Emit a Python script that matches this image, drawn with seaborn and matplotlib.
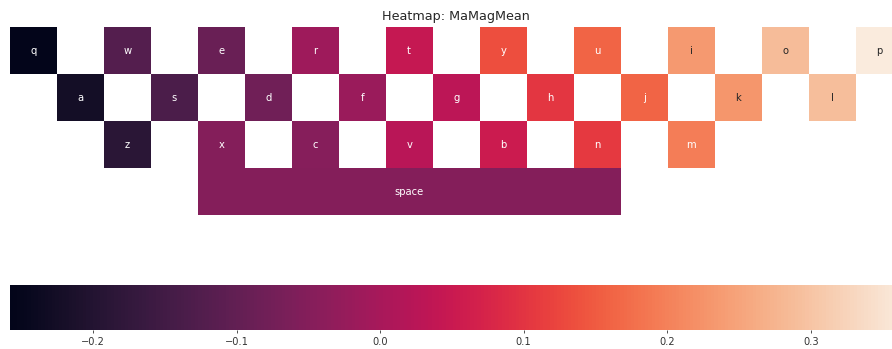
import numpy as np
import pandas as pd
import matplotlib
matplotlib.use("Agg")
import matplotlib.pyplot as plt
import seaborn as sns

# Mean magnitude per key, laid out on a staggered keyboard grid
top_keys = list("qwertyuiop")
top_vals = [-0.258, -0.121, -0.089, -0.014, 0.044, 0.134, 0.162, 0.235, 0.287, 0.364]
home_keys = list("asdfghjkl")
home_vals = [-0.225, -0.135, -0.079, -0.018, 0.030, 0.104, 0.162, 0.228, 0.290]
bottom_keys = list("zxcvbnm")
bottom_vals = [-0.188, -0.051, -0.048, 0.025, 0.055, 0.107, 0.195]
space_label = "space"
space_val = -0.050

n_rows, n_cols = 4, 19
grid = np.full((n_rows, n_cols), np.nan)
labels = np.full((n_rows, n_cols), "", dtype=object)

for i, (k, v) in enumerate(zip(top_keys, top_vals)):
    grid[0, 2 * i] = v
    labels[0, 2 * i] = k
for i, (k, v) in enumerate(zip(home_keys, home_vals)):
    grid[1, 2 * i + 1] = v
    labels[1, 2 * i + 1] = k
for i, (k, v) in enumerate(zip(bottom_keys, bottom_vals)):
    grid[2, 2 * i + 2] = v
    labels[2, 2 * i + 2] = k
grid[3, 4:13] = space_val
labels[3, 8] = space_label

df = pd.DataFrame(grid)

sns.set_theme(style="white")
plt.rcParams["font.family"] = ["DejaVu Sans"]
plt.rcParams["xtick.bottom"] = True

W, H = 892, 349
fig = plt.figure(figsize=(W / 100, H / 100), dpi=100)
left = 9.7
width = 19 * 47.0
ax = fig.add_axes([left / W, (H - 215.3) / H, width / W, 188.0 / H])
cax = fig.add_axes([left / W, (H - 330.0) / H, width / W, 44.7 / H])

sns.heatmap(
    df, ax=ax, cbar_ax=cax, cmap="rocket",
    annot=labels, fmt="", annot_kws={"fontsize": 7.2},
    xticklabels=False, yticklabels=False,
    cbar_kws={"orientation": "horizontal"},
)
ax.set_title("Heatmap: MaMagMean", fontsize=9.2, color="#262626", pad=5.5)
cax.tick_params(labelsize=7.1, colors="#333333", length=2.5, width=0.6, pad=2.5)

fig.savefig("out.png", dpi=100)
